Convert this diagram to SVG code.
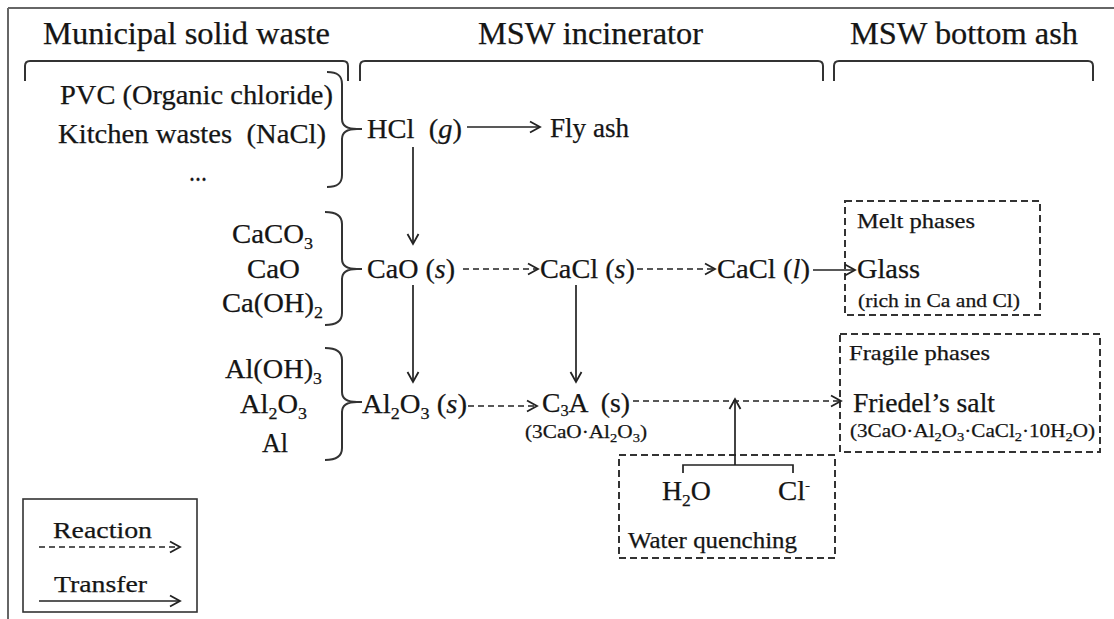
<svg xmlns="http://www.w3.org/2000/svg" width="1114" height="619" viewBox="0 0 1114 619">
<defs>
<style>
text{font-family:"Liberation Serif","Times New Roman",Times,serif;fill:#151515;stroke:#151515;stroke-width:0.25}
.h{font-size:32px}
.m{font-size:27px}
.s{font-size:21px}
.xs{font-size:19px}
.lg{font-size:24px}
.sub{font-size:17px}
.xsub{font-size:13px}
.it{font-style:italic}
.ln{fill:none;stroke:#222;stroke-width:1.7}
.dash{fill:none;stroke:#222;stroke-width:1.6;stroke-dasharray:6 4}
.box{fill:none;stroke:#333;stroke-width:2;stroke-dasharray:7 4}
.brk{fill:none;stroke:#333;stroke-width:2}
</style>
<marker id="ah" markerUnits="userSpaceOnUse" markerWidth="14" markerHeight="14" refX="11" refY="6.5" orient="auto" viewBox="0 0 14 13">
<path d="M1,1 L11,6.5 L1,12" fill="none" stroke="#222" stroke-width="1.8"/>
</marker>
</defs>
<rect width="1114" height="619" fill="#fff"/>
<g id="frame">
<path d="M8,8 H1114 M8,8 V619" fill="none" stroke="#666" stroke-width="2"/>
</g>
<g id="headers">
<text class="h" x="43" y="44" textLength="287" lengthAdjust="spacingAndGlyphs">Municipal solid waste</text>
<text class="h" x="478" y="44" textLength="225" lengthAdjust="spacingAndGlyphs">MSW incinerator</text>
<text class="h" x="850" y="44" textLength="228" lengthAdjust="spacingAndGlyphs">MSW bottom ash</text>
<path class="brk" d="M25,81 V66 Q25,61 30,61 H343 Q348,61 348,66 V81"/>
<path class="brk" d="M360,81 V66 Q360,61 365,61 H818 Q823,61 823,66 V81"/>
<path class="brk" d="M834,81 V66 Q834,61 839,61 H1088 Q1093,61 1093,66 V81"/>
</g>
<g id="sources-cl">
<text class="m" x="60" y="104" textLength="273" lengthAdjust="spacingAndGlyphs">PVC (Organic chloride)</text>
<text class="m" x="58" y="143" textLength="268" lengthAdjust="spacingAndGlyphs" xml:space="preserve">Kitchen wastes  (NaCl)</text>
<text class="m" x="189" y="181" textLength="18" lengthAdjust="spacingAndGlyphs">...</text>
<path class="brk" d="M327,72 C338,72 342,76 342,84 V119 C342,125 347,129 357,129 C347,129 342,133 342,139 V175 C342,183 338,187 327,187 M357,129 H362"/>
</g>
<g id="sources-ca">
<text class="m" x="232" y="243" textLength="81" lengthAdjust="spacingAndGlyphs">CaCO<tspan class="sub" dy="6">3</tspan></text>
<text class="m" x="247" y="278" textLength="53" lengthAdjust="spacingAndGlyphs">CaO</text>
<text class="m" x="222" y="312" textLength="101" lengthAdjust="spacingAndGlyphs">Ca(OH)<tspan class="sub" dy="6">2</tspan></text>
<path class="brk" d="M325,212 C337,212 342,216 342,224 V259 C342,265 347,269 357,269 C347,269 342,273 342,279 V313 C342,321 337,325 325,325 M357,269 H362"/>
</g>
<g id="sources-al">
<text class="m" x="225" y="378" textLength="97" lengthAdjust="spacingAndGlyphs">Al(OH)<tspan class="sub" dy="6">3</tspan></text>
<text class="m" x="240" y="413" textLength="67" lengthAdjust="spacingAndGlyphs">Al<tspan class="sub" dy="6">2</tspan><tspan dy="-6">O</tspan><tspan class="sub" dy="6">3</tspan></text>
<text class="m" x="262" y="452" textLength="26" lengthAdjust="spacingAndGlyphs">Al</text>
<path class="brk" d="M325,348 C337,348 342,352 342,360 V392 C342,398 347,402 357,402 C347,402 342,406 342,412 V448 C342,456 337,460 325,460 M357,402 H362"/>
</g>
<g id="hcl"><text class="m" x="367" y="138" textLength="95" lengthAdjust="spacingAndGlyphs" xml:space="preserve">HCl  (<tspan class="it">g</tspan>)</text></g>
<g id="flyash"><text class="m" x="550" y="137" textLength="79" lengthAdjust="spacingAndGlyphs">Fly ash</text></g>
<g id="cao"><text class="m" x="367" y="278" textLength="88" lengthAdjust="spacingAndGlyphs">CaO (<tspan class="it">s</tspan>)</text></g>
<g id="cacl-s"><text class="m" x="540" y="278" textLength="95" lengthAdjust="spacingAndGlyphs">CaCl (<tspan class="it">s</tspan>)</text></g>
<g id="cacl-l"><text class="m" x="717" y="278" textLength="93" lengthAdjust="spacingAndGlyphs">CaCl (<tspan class="it">l</tspan>)</text></g>
<g id="melt">
<rect class="box" x="845" y="201" width="195" height="114"/>
<text class="s" x="857" y="228" textLength="118" lengthAdjust="spacingAndGlyphs">Melt phases</text>
<text class="m" x="857" y="278" textLength="63" lengthAdjust="spacingAndGlyphs">Glass</text>
<text class="xs" x="858" y="307" textLength="162" lengthAdjust="spacingAndGlyphs">(rich in Ca and Cl)</text>
</g>
<g id="al2o3"><text class="m" x="362" y="413" textLength="105" lengthAdjust="spacingAndGlyphs">Al<tspan class="sub" dy="6">2</tspan><tspan dy="-6">O</tspan><tspan class="sub" dy="6">3</tspan><tspan dy="-6" xml:space="preserve"> (</tspan><tspan class="it">s</tspan>)</text></g>
<g id="c3a">
<text class="m" x="542" y="412" textLength="88" lengthAdjust="spacingAndGlyphs" xml:space="preserve">C<tspan style="font-size:16px" dy="4">3</tspan><tspan dy="-4">A  (s)</tspan></text>
<text class="xs" x="525" y="438" textLength="122" lengthAdjust="spacingAndGlyphs">(3CaO·Al<tspan class="xsub" dy="4">2</tspan><tspan dy="-4">O</tspan><tspan class="xsub" dy="4">3</tspan><tspan dy="-4">)</tspan></text>
</g>
<g id="fragile">
<rect class="box" x="840" y="334" width="260" height="118"/>
<text class="s" x="849" y="360" textLength="141" lengthAdjust="spacingAndGlyphs">Fragile phases</text>
<text class="m" x="853" y="412" textLength="142" lengthAdjust="spacingAndGlyphs">Friedel’s salt</text>
<text class="xs" x="850" y="437" textLength="245" lengthAdjust="spacingAndGlyphs">(3CaO·Al<tspan class="xsub" dy="4">2</tspan><tspan dy="-4">O</tspan><tspan class="xsub" dy="4">3</tspan><tspan dy="-4">·CaCl</tspan><tspan class="xsub" dy="4">2</tspan><tspan dy="-4">·10H</tspan><tspan class="xsub" dy="4">2</tspan><tspan dy="-4">O)</tspan></text>
</g>
<g id="water">
<rect class="box" x="619" y="455" width="216" height="103"/>
<text class="m" x="662" y="500" textLength="49" lengthAdjust="spacingAndGlyphs">H<tspan class="sub" dy="6">2</tspan><tspan dy="-6">O</tspan></text>
<text class="m" x="778" y="500" textLength="32" lengthAdjust="spacingAndGlyphs">Cl<tspan class="xsub" dy="-10">-</tspan></text>
<text class="s" x="628" y="548" textLength="169" lengthAdjust="spacingAndGlyphs" style="font-size:23px">Water quenching</text>
</g>
<g id="legend">
<rect x="23" y="499" width="174" height="113" fill="none" stroke="#333" stroke-width="1.6"/>
<text class="lg" x="53" y="538" textLength="99" lengthAdjust="spacingAndGlyphs">Reaction</text>
<text class="lg" x="54" y="592" textLength="93" lengthAdjust="spacingAndGlyphs">Transfer</text>
<path class="dash" d="M39,547 H180" marker-end="url(#ah)"/>
<path class="ln" d="M39,601 H180" marker-end="url(#ah)"/>
</g>
<g id="connectors">
<path class="ln" d="M467,127 H540" marker-end="url(#ah)"/>
<path class="ln" d="M413,147 V244" marker-end="url(#ah)"/>
<path class="dash" d="M463,269 H538" marker-end="url(#ah)"/>
<path class="dash" d="M637,269 H715" marker-end="url(#ah)"/>
<path class="ln" d="M813,270 H855" marker-end="url(#ah)"/>
<path class="ln" d="M413,285 V382" marker-end="url(#ah)"/>
<path class="ln" d="M576,285 V382" marker-end="url(#ah)"/>
<path class="dash" d="M468,406 H537" marker-end="url(#ah)"/>
<path class="dash" d="M633,401 H841" marker-end="url(#ah)"/>
<path class="ln" d="M683,473 V465 H793 V473"/>
<path class="ln" d="M735,465 V399" marker-end="url(#ah)"/>
</g>
</svg>
